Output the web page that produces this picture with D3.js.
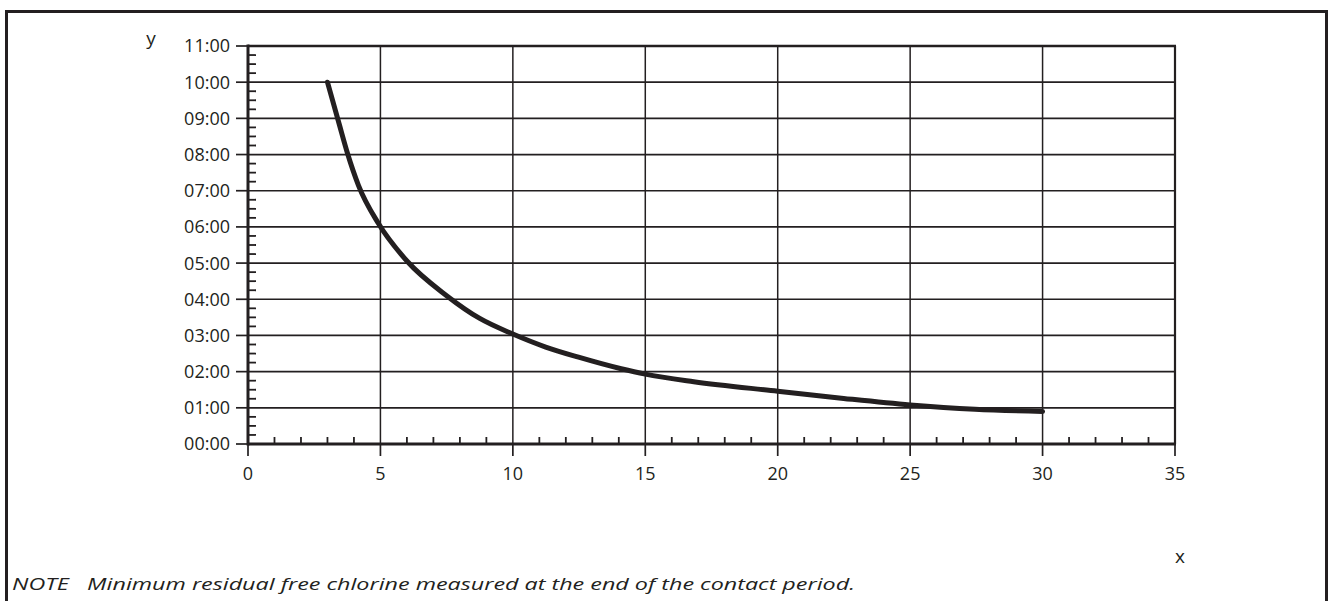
<!DOCTYPE html>
<html>
<head>
<meta charset="utf-8">
<script src="https://cdn.jsdelivr.net/npm/d3@7"></script>
<style>
  body { margin: 0; background: #fff; }
  text { font-family: "Open Sans", sans-serif; fill: #231f20; }
</style>
</head>
<body>
<div id="chart"></div>
<script>
// contact time (x) vs time in hours (y)
const xValues = [3, 3.44, 3.75, 4.17, 4.92, 6.01, 7.5, 8.75, 10, 11.24, 12.48, 14.09, 15, 16.83, 20, 22.49, 25, 27.45, 30];
const yValues = [10, 8.85, 8.05, 7.15, 6.1, 5.05, 4.1, 3.47, 3.04, 2.68, 2.4, 2.08, 1.93, 1.72, 1.46, 1.26, 1.08, 0.96, 0.9];

const xTicks = [0, 5, 10, 15, 20, 25, 30, 35];
const yTicks = [0, 1, 2, 3, 4, 5, 6, 7, 8, 9, 10, 11];
const yTickLabels = ["00:00", "01:00", "02:00", "03:00", "04:00", "05:00", "06:00", "07:00", "08:00", "09:00", "10:00", "11:00"];
const noteText = "NOTE   Minimum residual free chlorine measured at the end of the contact period.";

const W = 1330, H = 601;
const ink = "#231f20";
const plot = {left: 248, right: 1175, top: 46, bottom: 444};

const svg = d3.select("#chart").append("svg")
    .attr("width", W)
    .attr("height", H);

// outer frame (bottom edge runs off the page)
svg.append("path")
    .attr("d", "M6.5," + (H + 5) + "V11.5H1326.5V" + (H + 5))
    .attr("fill", "none")
    .attr("stroke", ink)
    .attr("stroke-width", 3);

const x = d3.scaleLinear().domain([0, 35]).range([plot.left, plot.right]);
const y = d3.scaleLinear().domain([0, 11]).range([plot.bottom, plot.top]);

const g = svg.append("g");

// grid
g.selectAll(".hgrid")
  .data(yTicks.slice(1, -1))
  .enter().append("line")
    .attr("x1", plot.left).attr("x2", plot.right)
    .attr("y1", d => y(d)).attr("y2", d => y(d))
    .attr("stroke", ink).attr("stroke-width", 1.7);

g.selectAll(".vgrid")
  .data(xTicks.slice(1, -1))
  .enter().append("line")
    .attr("y1", plot.top).attr("y2", plot.bottom)
    .attr("x1", d => x(d)).attr("x2", d => x(d))
    .attr("stroke", ink).attr("stroke-width", 1.5);

// minor ticks, pointing into the plot
const yMinor = d3.range(0, 44).filter(i => i % 4 != 0).map(i => i / 4);
g.selectAll(".ymin")
  .data(yMinor)
  .enter().append("line")
    .attr("x1", plot.left).attr("x2", plot.left + 8)
    .attr("y1", d => y(d)).attr("y2", d => y(d))
    .attr("stroke", ink).attr("stroke-width", 1.8);

const xMinor = d3.range(1, 35).filter(i => i % 5 != 0);
g.selectAll(".xmin")
  .data(xMinor)
  .enter().append("line")
    .attr("y1", plot.bottom).attr("y2", plot.bottom - 7)
    .attr("x1", d => x(d)).attr("x2", d => x(d))
    .attr("stroke", ink).attr("stroke-width", 1.8);

// major ticks outside
g.selectAll(".ymaj")
  .data(yTicks)
  .enter().append("line")
    .attr("x1", plot.left - 12).attr("x2", plot.left)
    .attr("y1", d => y(d)).attr("y2", d => y(d))
    .attr("stroke", ink).attr("stroke-width", 1.7);

g.selectAll(".xmaj")
  .data(xTicks)
  .enter().append("line")
    .attr("y1", plot.bottom).attr("y2", plot.bottom + 12)
    .attr("x1", d => x(d)).attr("x2", d => x(d))
    .attr("stroke", ink).attr("stroke-width", 1.7);

// box: thick left/bottom/top, thinner right
g.append("line").attr("x1", plot.left).attr("x2", plot.left)
    .attr("y1", plot.top - 1.5).attr("y2", plot.bottom + 1.5)
    .attr("stroke", ink).attr("stroke-width", 3);
g.append("line").attr("x1", plot.left).attr("x2", plot.right + 1)
    .attr("y1", plot.bottom).attr("y2", plot.bottom)
    .attr("stroke", ink).attr("stroke-width", 3);
g.append("line").attr("x1", plot.left).attr("x2", plot.right + 1)
    .attr("y1", plot.top).attr("y2", plot.top)
    .attr("stroke", ink).attr("stroke-width", 2.6);
g.append("line").attr("x1", plot.right).attr("x2", plot.right)
    .attr("y1", plot.top).attr("y2", plot.bottom)
    .attr("stroke", ink).attr("stroke-width", 2.2);

// tick labels
g.selectAll(".ylab")
  .data(yTicks)
  .enter().append("text")
    .attr("x", plot.left - 18)
    .attr("y", d => y(d))
    .attr("dy", "0.36em")
    .attr("text-anchor", "end")
    .style("font-size", "18px")
    .text((d, i) => yTickLabels[i]);

g.selectAll(".xlab")
  .data(xTicks)
  .enter().append("text")
    .attr("x", d => x(d))
    .attr("y", plot.bottom + 36)
    .attr("text-anchor", "middle")
    .style("font-size", "18px")
    .text(d => d);

svg.append("text").attr("x", 151).attr("y", 45)
    .attr("text-anchor", "middle").style("font-size", "19px").text("y");
svg.append("text").attr("x", 1180).attr("y", 563)
    .attr("text-anchor", "middle").style("font-size", "19px").text("x");

// curve
const pts = xValues.map((v, i) => [v, yValues[i]]);
g.append("path")
    .datum(pts)
    .attr("fill", "none")
    .attr("stroke", ink)
    .attr("stroke-width", 5)
    .attr("stroke-linecap", "round")
    .attr("d", d3.line().x(d => x(d[0])).y(d => y(d[1])).curve(d3.curveMonotoneX));

svg.append("text")
    .attr("x", 12).attr("y", 590)
    .attr("textLength", 843)
    .attr("lengthAdjust", "spacingAndGlyphs")
    .style("font-size", "17px")
    .style("font-style", "italic")
    .attr("xml:space", "preserve")
    .style("white-space", "pre")
    .text(noteText);
</script>
</body>
</html>
